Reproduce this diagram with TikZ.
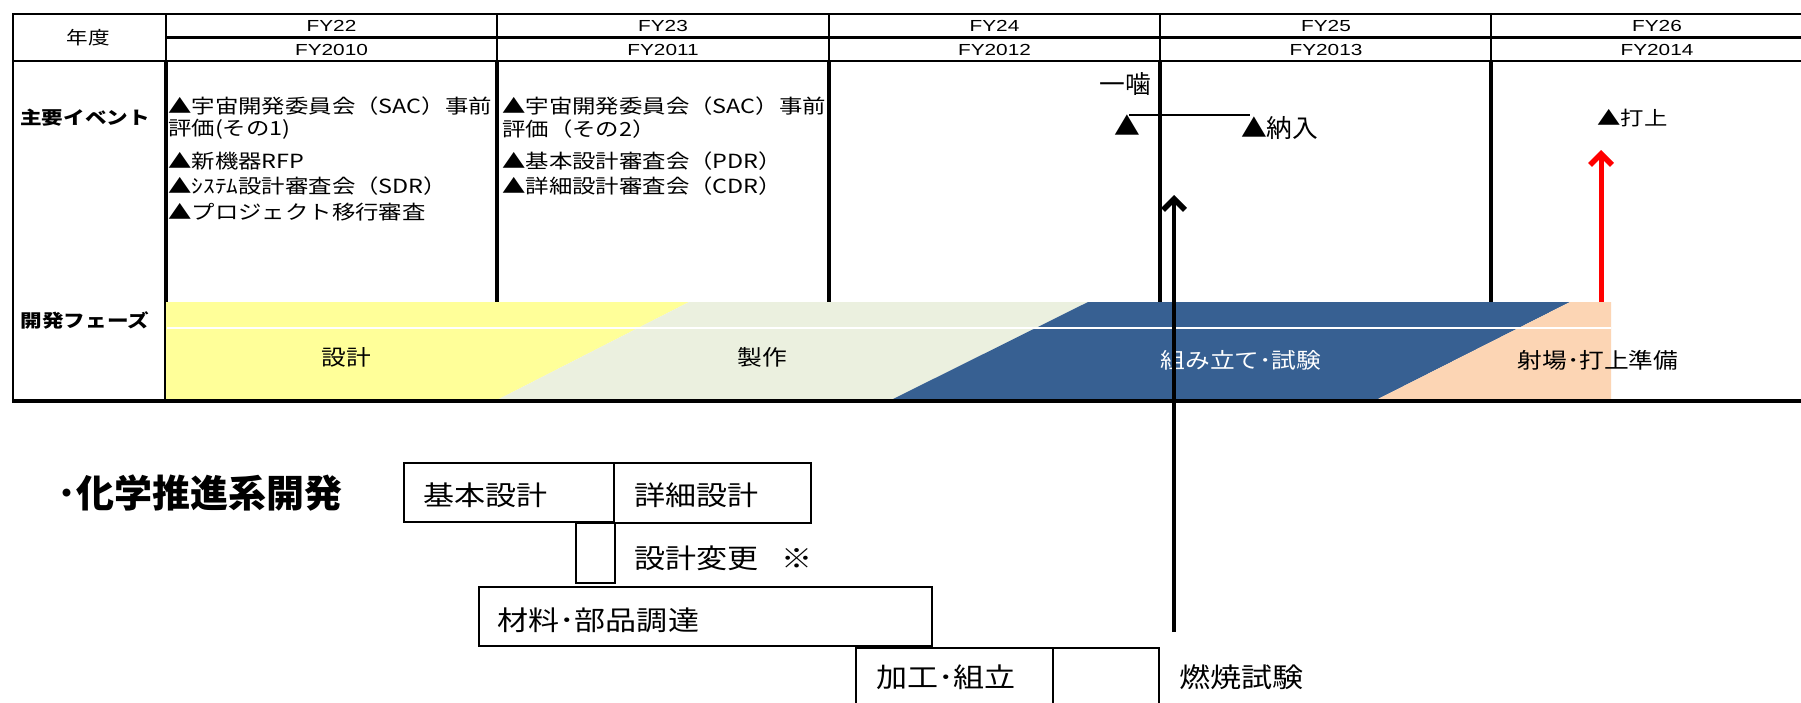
\documentclass[tikz,border=0pt]{standalone}
\usepackage{fontspec}
\setmainfont{Noto Sans CJK JP}
\newfontfamily\latinfont{Liberation Sans}
\usetikzlibrary{arrows.meta}
\definecolor{phyellow}{HTML}{FFFF99}
\definecolor{phgrey}{HTML}{EBF0DF}
\definecolor{phblue}{HTML}{376092}
\definecolor{phpeach}{HTML}{FCD5B4}
\begin{document}
\begin{tikzpicture}[x=1pt,y=-1pt,
  evtxt/.style={inner sep=0pt, anchor=west, xscale=1.2, font=\fontsize{19.5}{22}\selectfont},
  lbltxt/.style={inner sep=0pt, xscale=1.2, font=\bfseries\fontsize{18}{20}\selectfont},
  fytxt/.style={inner sep=0pt, xscale=1.3, font=\latinfont\fontsize{16}{18}\selectfont},
  phtxt/.style={inner sep=0pt, xscale=1.15, font=\fontsize{21.5}{24}\selectfont},
  bigtxt/.style={inner sep=0pt, anchor=west, xscale=1.15, font=\fontsize{27}{30}\selectfont},
  milestone/.style={inner sep=0pt, anchor=west, xscale=1.03, font=\fontsize{25}{28}\selectfont},
  taskbox/.style={draw, line width=2pt, inner sep=0pt},
  thinrule/.style={line width=1.6pt},
  thickrule/.style={line width=3.2pt},
  bigarrow/.style={line width=4.5pt, -{Straight Barb[length=11pt,width=22pt,line width=5.5pt]}}
]
\useasboundingbox (0,0) rectangle (1801,702);
\fill[white] (0,0) rectangle (1801,702);

% ---- table grid ----
\foreach \x in {166,497,829,1160,1491} \draw[thinrule] (\x,14) -- (\x,61);
\foreach \x in {497,829,1160,1491} \draw[thickrule] (\x,61) -- (\x,302);
\draw[thickrule] (166,61) -- (166,401);
\draw[line width=2.8pt] (12,14) -- (1801,14);
\draw[line width=2.2pt] (166,37.5) -- (1801,37.5);
\draw[line width=2.8pt] (12,61) -- (1801,61);
\draw[line width=2.8pt] (13,14) -- (13,401);

% ---- header ----
\node[lbltxt, font=\fontsize{18}{20}\selectfont] (nendo) at (88,38) {年度};
\node[fytxt] (fy22) at (331.5,26) {FY22};
\node[fytxt] (fy23) at (663,26) {FY23};
\node[fytxt] (fy24) at (994.5,26) {FY24};
\node[fytxt] (fy25) at (1326,26) {FY25};
\node[fytxt] (fy26) at (1657,26) {FY26};
\node[fytxt] (fy10) at (331.5,50) {FY2010};
\node[fytxt] (fy11) at (663,50) {FY2011};
\node[fytxt] (fy12) at (994.5,50) {FY2012};
\node[fytxt] (fy13) at (1326,50) {FY2013};
\node[fytxt] (fy14) at (1657,50) {FY2014};

% ---- row labels ----
\node[lbltxt] (events) at (85,118) {主要イベント};
\node[lbltxt] (phases) at (85,320) {開発フェーズ};

% ---- events FY22 ----
\node[evtxt] (e1) at (168,106) {▲宇宙開発委員会（SAC）事前};
\node[evtxt] (e2) at (168,129) {評価(その1)};
\node[evtxt] (e3) at (168,161) {▲新機器RFP};
\node[evtxt] (e4) at (168,186) {▲ｼｽﾃﾑ設計審査会（SDR）};
\node[evtxt] (e5) at (168,212) {▲プロジェクト移行審査};
% ---- events FY23 ----
\node[evtxt] (f1) at (502,106) {▲宇宙開発委員会（SAC）事前};
\node[evtxt] (f2) at (502,129) {評価（その2）};
\node[evtxt] (f3) at (502,161) {▲基本設計審査会（PDR）};
\node[evtxt] (f4) at (502,186) {▲詳細設計審査会（CDR）};

% ---- milestones FY24/25/26 ----
\node[milestone, anchor=east] (kami) at (1151,84) {一噛};
\node[milestone, anchor=center] (tri1) at (1127,125) {▲};
\node[milestone] (nounyu) at (1241,128) {▲納入};
\coordinate (hlA) at (1129,115);
\coordinate (hlB) at (1250,115);
\draw[line width=2pt] (hlA) -- (hlB);
\node[evtxt] (uchiage) at (1597,118) {▲打上};

% red arrow (partly hidden by band)
\coordinate (rA) at (1601,310);
\coordinate (rB) at (1601,150);
\draw[bigarrow, red, line width=5pt] (rA) -- (rB);

% ---- development phase band ----
\fill[phyellow] (166,302) -- (689,302) -- (497,400) -- (166,400) -- cycle;
\fill[phgrey] (689,302) -- (1088,302) -- (891,400) -- (497,400) -- cycle;
\fill[phblue] (1088,302) -- (1570,302) -- (1376,400) -- (891,400) -- cycle;
\fill[phpeach] (1570,302) -- (1611,302) -- (1611,400) -- (1376,400) -- cycle;
\draw[white, line width=1.5pt] (167,328) -- (1611,328);
\draw[line width=3.2pt] (12,401) -- (1801,401);

\node[phtxt] (sekkei) at (346,357) {設計};
\node[phtxt] (seisaku) at (762,357) {製作};
\node[phtxt, white] (kumitate) at (1241,360) {組み立て･試験};
\node[phtxt] (shajou) at (1598,360) {射場･打上準備};

% ---- chemical propulsion development ----
\node[inner sep=0pt, anchor=west, font=\bfseries\fontsize{38}{42}\selectfont] (title) at (57,493) {･化学推進系開発};

\node[taskbox, minimum width=210pt, minimum height=59pt] (kihon) at (509,492.5) {};
\node[taskbox, minimum width=197pt, minimum height=60pt] (shousai) at (712.5,493) {};
\node[taskbox, minimum width=39pt, minimum height=60pt] (henkou) at (595.5,553) {};
\node[taskbox, minimum width=453pt, minimum height=59pt] (zairyo) at (705.5,616.5) {};
\node[taskbox, minimum width=197pt, minimum height=60pt] (kakou) at (954.5,678) {};
\node[taskbox, minimum width=106pt, minimum height=60pt] (nenshou) at (1106,678) {};

\node[bigtxt] (t1) at (423,495) {基本設計};
\node[bigtxt] (t2) at (634,495) {詳細設計};
\node[bigtxt] (t3) at (634,558) {設計変更\hspace{0.75em}※};
\node[bigtxt] (t4) at (497,620) {材料･部品調達};
\node[bigtxt] (t5) at (876,677) {加工･組立};
\node[bigtxt] (t6) at (1179,677) {燃焼試験};

% black arrow
\coordinate (bA) at (1174,632);
\coordinate (bB) at (1174,195);
\draw[bigarrow] (bA) -- (bB);
\end{tikzpicture}
\end{document}
